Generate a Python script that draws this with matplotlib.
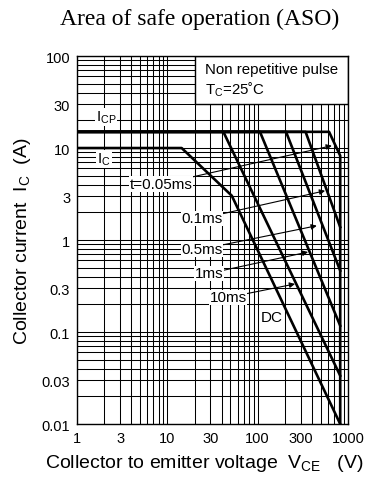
######## Area of safe operation (ASO) ########
import matplotlib
matplotlib.use('Agg')
import matplotlib.pyplot as plt
from matplotlib.patches import Rectangle
from matplotlib.ticker import FixedLocator, NullFormatter

plt.rcParams['font.family'] = ['Liberation Sans', 'DejaVu Sans']
plt.rcParams['mathtext.default'] = 'regular'

### Datos ###
# Limites de corriente
icp = 15
ic = 10
vceo = 820

# Curva DC
dc_v = [1, 14.4, 51.7, vceo]
dc_i = [ic, ic, 3.03, 0.01]

# Curvas de pulso (V, I)
t005_v = [1, 617, vceo, vceo]
t005_i = [icp, icp, 8.25, 0.01]
t01_v = [1, 339, vceo]
t01_i = [icp, icp, 1.38]
t05_v = [1, 206, vceo]
t05_i = [icp, icp, 0.464]
t1_v = [1, 106, vceo]
t1_i = [icp, icp, 0.117]
t10_v = [1, 41.7, vceo]
t10_i = [icp, icp, 0.0335]

# Etiquetas: texto, posicion del texto, punta de flecha
etiquetas = ['t=0.05ms', '0.1ms', '0.5ms', '1ms', '10ms']
pos_texto = [(8.5, 4.07), (24.2, 1.72), (24.2, 0.797), (29, 0.434), (47, 0.238)]
pos_punta = [(662, 10.6), (557, 3.43), (451, 1.43), (361, 0.741), (259, 0.333)]

xticks = [1, 3, 10, 30, 100, 300, 1000]
yticks = [0.01, 0.03, 0.1, 0.3, 1, 3, 10, 30, 100]

### Grafico ###
fig = plt.figure(figsize=(3.74, 4.81), dpi=100)
ax = fig.add_axes([0.206, 0.1164, 0.7245, 0.765])
ax.set_xscale('log')
ax.set_yscale('log')
ax.set_xlim(1, 1000)
ax.set_ylim(0.01, 100)

# Rejilla
ax.grid(True, which='both', color='black', lw=0.75)
ax.set_axisbelow(True)
ax.xaxis.set_major_locator(FixedLocator(xticks))
ax.yaxis.set_major_locator(FixedLocator(yticks))
ax.set_xticklabels([str(x) for x in xticks])
ax.set_yticklabels([('%g' % y) for y in yticks])
ax.xaxis.set_minor_formatter(NullFormatter())
ax.yaxis.set_minor_formatter(NullFormatter())
ax.tick_params(which='both', length=0, labelsize=10.5)
ax.tick_params(axis='x', pad=5)
ax.tick_params(axis='y', pad=5)
for s in ax.spines.values():
    s.set_linewidth(1.0)

# Caja de condiciones
ax.add_patch(Rectangle((20.3, 30), 1000 - 20.3, 70, facecolor='white',
                       edgecolor='black', lw=1.0, zorder=2))
ax.text(26, 55, 'Non repetitive pulse\nT$_C$=25˚C', fontsize=10.8,
        va='center', ha='left', linespacing=1.2, zorder=3)

# Curvas
lw = 1.9
ax.plot(dc_v, dc_i, color='black', lw=lw, zorder=4)
ax.plot(t005_v, t005_i, color='black', lw=lw, zorder=4)
ax.plot(t01_v, t01_i, color='black', lw=lw, zorder=4)
ax.plot(t05_v, t05_i, color='black', lw=lw, zorder=4)
ax.plot(t1_v, t1_i, color='black', lw=lw, zorder=4)
ax.plot(t10_v, t10_i, color='black', lw=lw, zorder=4)

caja = dict(facecolor='white', edgecolor='none', pad=0.5)
ax.text(2.1, 22.0, 'I$_{CP}$', fontsize=11, ha='center', va='center', bbox=caja, zorder=5)
ax.text(1.99, 7.6, 'I$_C$', fontsize=11, ha='center', va='center', bbox=caja, zorder=5)
ax.text(144, 0.146, 'DC', fontsize=11, ha='center', va='center', bbox=caja, zorder=5)

for et, pt, pp in zip(etiquetas, pos_texto, pos_punta):
    ax.annotate(et, xy=pp, xytext=pt, fontsize=11, ha='center', va='center',
                bbox=caja, zorder=5,
                arrowprops=dict(arrowstyle='-|>', color='black', lw=0.8,
                                mutation_scale=8, shrinkA=0, shrinkB=0))

ax.set_xlabel('Collector to emitter voltage  V$_{CE}$   (V)', fontsize=14, labelpad=6)
ax.xaxis.set_label_coords(0.47, -0.075)
ax.set_ylabel('Collector current  I$_C$  (A)', fontsize=14, labelpad=6)
fig.text(0.535, 0.96, 'Area of safe operation (ASO)', family='Liberation Serif',
         fontsize=17, ha='center', va='center')

fig.savefig('out.png', dpi=100)
